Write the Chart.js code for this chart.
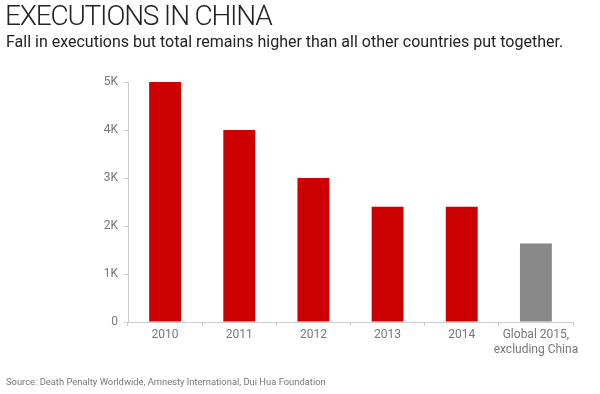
<!DOCTYPE html>
<html>
<head>
<meta charset="utf-8">
<script src="https://cdn.jsdelivr.net/npm/chart.js@4"></script>
<style>
  html, body { margin: 0; padding: 0; background: #fff; }
  body { width: 600px; height: 394px; position: relative; overflow: hidden; font-family: Roboto, sans-serif; }
  #title { position: absolute; left: 5px; top: -1px; font-size: 28px; font-weight: 300; color: #222; letter-spacing: -1.2px; white-space: nowrap; }
  #subtitle { position: absolute; left: 6px; top: 32px; font-size: 16px; color: #222; white-space: nowrap; }
  #source { position: absolute; left: 6px; top: 376px; font-size: 9.4px; color: #777; white-space: nowrap; }
  #wrap { position: absolute; left: 0; top: 0; width: 600px; height: 394px; }
</style>
</head>
<body>
<div id="wrap"><canvas id="chart" width="600" height="394"></canvas></div>
<div id="title">EXECUTIONS IN CHINA</div>
<div id="subtitle">Fall in executions but total remains higher than all other countries put together.</div>
<div id="source">Source: Death Penalty Worldwide, Amnesty International, Dui Hua Foundation</div>
<script>
var categories = ['2010', '2011', '2012', '2013', '2014', ['Global 2015,', 'excluding China']];
var executions = [5000, 4000, 3000, 2400, 2400, 1634];
var barColors = ['#cc0000', '#cc0000', '#cc0000', '#cc0000', '#cc0000', '#888888'];
var yTicks = [0, 1000, 2000, 3000, 4000, 5000];

var tickFont = { family: 'Roboto, sans-serif', size: 12 };

var chart = new Chart(document.getElementById('chart'), {
    type: 'bar',
    data: {
        labels: categories,
        datasets: [{
            data: executions,
            backgroundColor: barColors,
            categoryPercentage: 1,
            barPercentage: 0.43
        }]
    },
    options: {
        responsive: false,
        animation: false,
        layout: { padding: { top: 82, right: 27, left: 0, bottom: 0 } },
        plugins: { legend: { display: false }, tooltip: { enabled: false } },
        scales: {
            x: {
                grid: { drawOnChartArea: false, color: '#ccc', tickLength: 4, offset: true },
                border: { color: '#ccc' },
                ticks: { color: '#777', font: tickFont, padding: 2, maxRotation: 0, autoSkip: false },
                afterFit: function (scale) { scale.height = 72; }
            },
            y: {
                min: 0,
                max: 5000,
                afterBuildTicks: function (scale) {
                    scale.ticks = yTicks.map(function (v) { return { value: v }; });
                },
                grid: { drawOnChartArea: false, color: '#ccc', tickLength: 4 },
                border: { color: '#ccc' },
                ticks: {
                    color: '#777',
                    font: tickFont,
                    padding: 6,
                    callback: function (v) { return v === 0 ? '0' : (v / 1000) + 'K'; }
                },
                afterFit: function (scale) { scale.width = 128; }
            }
        }
    }
});
</script>
</body>
</html>
